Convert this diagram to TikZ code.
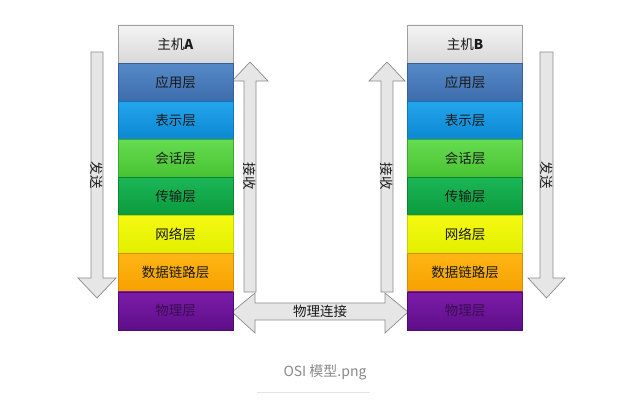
\documentclass[tikz,border=0pt]{standalone}
\usepackage{fontspec}
\newfontfamily\cjk{Noto Sans CJK SC}
\usetikzlibrary{positioning}
\definecolor{arrfill}{HTML}{E6E6E6}
\definecolor{arrdraw}{HTML}{8C8C8C}
\definecolor{txt}{HTML}{1A1A1A}
\definecolor{hT}{HTML}{F4F4F4}\definecolor{hB}{HTML}{D8D8D8}\definecolor{hD}{HTML}{A0A0A0}
\definecolor{aT}{HTML}{558AC8}\definecolor{aB}{HTML}{3E6CAC}\definecolor{aD}{HTML}{35609A}
\definecolor{pT}{HTML}{25A5EE}\definecolor{pB}{HTML}{0A88D2}\definecolor{pD}{HTML}{0A78B8}
\definecolor{sT}{HTML}{66DC50}\definecolor{sB}{HTML}{48C232}\definecolor{sD}{HTML}{3CA82A}
\definecolor{tT}{HTML}{1CB656}\definecolor{tB}{HTML}{0A9A3C}\definecolor{tD}{HTML}{088634}
\definecolor{nT}{HTML}{F4FA10}\definecolor{nB}{HTML}{E2EE00}\definecolor{nD}{HTML}{C8D400}
\definecolor{dT}{HTML}{FFB614}\definecolor{dB}{HTML}{F5A000}\definecolor{dD}{HTML}{D88C00}
\definecolor{phT}{HTML}{7C1CAA}\definecolor{phB}{HTML}{5E0E88}\definecolor{phD}{HTML}{4E0A74}
\definecolor{phX}{HTML}{3A0E52}
\definecolor{capc}{HTML}{8A8A8A}
\definecolor{capl}{HTML}{E2E2E2}
\begin{document}
\begin{tikzpicture}[x=1pt,y=-1pt,
  layer/.style={line width=0.6pt, minimum width=115pt, minimum height=38.125pt,
    inner sep=0pt, outer sep=0pt, font=\cjk\fontsize{13.5}{13.5}\selectfont, text=txt},
  lyr/.style n args={3}{layer, top color=#1, bottom color=#2, draw=#3},
  blockarrow/.style={fill=arrfill, draw=arrdraw, line width=0.7pt, line join=miter},
  arrlabel/.style={font=\cjk\fontsize{13.5}{13.5}\selectfont, text=txt, inner sep=0pt}]
\useasboundingbox (0,0) rectangle (626,407);
\fill[white] (0,0) rectangle (626,407);

% send A
\draw[blockarrow] (91,52) -- (103,52) -- (103,278) -- (116,278) -- (97,298) -- (78,278) -- (91,278) -- cycle;
% receive A
\draw[blockarrow] (244,292) -- (244,81) -- (232,81) -- (250,62) -- (268,81) -- (256,81) -- (256,292) -- cycle;
% receive B
\draw[blockarrow] (381,292) -- (381,81) -- (369,81) -- (387,62) -- (405,81) -- (393,81) -- (393,292) -- cycle;
% send B
\draw[blockarrow] (540,52) -- (553,52) -- (553,278) -- (565,278) -- (546.5,298) -- (528,278) -- (540,278) -- cycle;
% physical link
\draw[blockarrow] (232,312) -- (255,293) -- (255,303) -- (385,303) -- (385,293) -- (408,312)
   -- (385,333) -- (385,320) -- (255,320) -- (255,333) -- cycle;

% host A stack
\node[lyr={hT}{hB}{hD}] (A0) at (175.5,44) {主机\textbf{A}};
\node[lyr={aT}{aB}{aD}] (A1) [below=0pt of A0] {应用层};
\node[lyr={pT}{pB}{pD}] (A2) [below=0pt of A1] {表示层};
\node[lyr={sT}{sB}{sD}] (A3) [below=0pt of A2] {会话层};
\node[lyr={tT}{tB}{tD}] (A4) [below=0pt of A3] {传输层};
\node[lyr={nT}{nB}{nD}] (A5) [below=0pt of A4] {网络层};
\node[lyr={dT}{dB}{dD}] (A6) [below=0pt of A5] {数据链路层};
\node[lyr={phT}{phB}{phD}, text=phX] (A7) [below=0pt of A6] {物理层};

% host B stack
\node[lyr={hT}{hB}{hD}] (B0) at (465,44) {主机\textbf{B}};
\node[lyr={aT}{aB}{aD}] (B1) [below=0pt of B0] {应用层};
\node[lyr={pT}{pB}{pD}] (B2) [below=0pt of B1] {表示层};
\node[lyr={sT}{sB}{sD}] (B3) [below=0pt of B2] {会话层};
\node[lyr={tT}{tB}{tD}] (B4) [below=0pt of B3] {传输层};
\node[lyr={nT}{nB}{nD}] (B5) [below=0pt of B4] {网络层};
\node[lyr={dT}{dB}{dD}] (B6) [below=0pt of B5] {数据链路层};
\node[lyr={phT}{phB}{phD}, text=phX] (B7) [below=0pt of B6] {物理层};

% arrow labels
\node[arrlabel, rotate=-90] (sa) at (97,175) {发送};
\node[arrlabel, rotate=-90] (ra) at (250,176) {接收};
\node[arrlabel, rotate=-90] (rb) at (387,176) {接收};
\node[arrlabel, rotate=-90] (sb) at (546.5,175) {发送};
\node[arrlabel] (link) at (320,311) {物理连接};

% caption
\node[font=\cjk\fontsize{14}{14}\selectfont, text=capc, inner sep=0pt] (cap) at (325,372) {OSI 模型.png};
\draw[capl, line width=0.8pt] (257,392) -- (370,392);
\end{tikzpicture}
\end{document}
